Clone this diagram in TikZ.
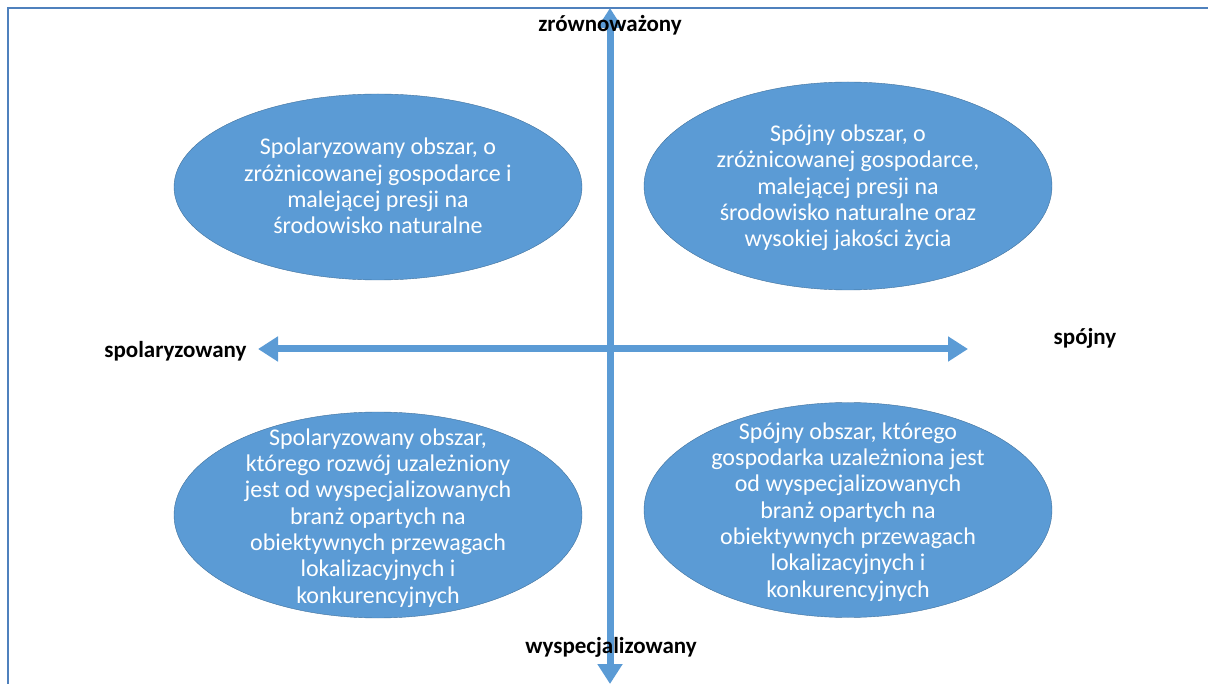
\documentclass[tikz,border=0pt]{standalone}
\usepackage{fontspec}
\setmainfont{Carlito}
\usetikzlibrary{arrows.meta}
\usetikzlibrary{shapes.geometric}
\definecolor{blob}{RGB}{91,155,213}
\definecolor{blobedge}{RGB}{65,113,156}
\definecolor{frame}{RGB}{79,129,189}

\begin{document}
\begin{tikzpicture}[x=1pt, y=-1pt,
		q/.style={ellipse, draw=blobedge, fill=blob, thin, inner sep=0pt},
		qt/.style={text=white, align=center, font=\fontsize{24}{26.3}\selectfont},
		ax/.style={{Triangle[width=24pt,length=20pt]}-{Triangle[width=24pt,length=20pt]}, line width=7pt, draw=blob, fill=blob},
		lbl/.style={font=\fontsize{23}{26}\selectfont\bfseries},
		]
		
		\useasboundingbox (0,0) rectangle (1208,684);
		\draw[frame, line width=2pt]	(8,700)	|-	(1220,8);
		
		\node[q, minimum width=408, minimum height=186]	(tl)	at	(378,187)	{};
		\node[q, minimum width=408, minimum height=208]	(tr)	at	(848,186)	{};
		\node[q, minimum width=408, minimum height=206]	(bl)	at	(378,515)	{};
		\node[q, minimum width=408, minimum height=215]	(br)	at	(848,510)	{};
		
		\node[qt]	(tltxt)	at	(378,186)	{Spolaryzowany obszar, o\\zróżnicowanej gospodarce i\\malejącej presji na\\środowisko naturalne};
		\node[qt]	(trtxt)	at	(848,188)	{Spójny obszar, o\\zróżnicowanej gospodarce,\\malejącej presji na\\środowisko naturalne oraz\\wysokiej jakości życia};
		\node[qt]	(bltxt)	at	(378,518)	{Spolaryzowany obszar,\\którego rozwój uzależniony\\jest od wyspecjalizowanych\\branż opartych na\\obiektywnych przewagach\\lokalizacyjnych i\\konkurencyjnych};
		\node[qt]	(brtxt)	at	(848,512)	{Spójny obszar, którego\\gospodarka uzależniona jest\\od wyspecjalizowanych\\branż opartych na\\obiektywnych przewagach\\lokalizacyjnych i\\konkurencyjnych};
		
		\coordinate	(n)	at	(610,8);
		\coordinate	(s)	at	(610,684);
		\coordinate	(w)	at	(258,349);
		\coordinate	(e)	at	(968,349);
		
		\draw[ax]	(w)	--	(e);
		\draw[ax]	(n)	--	(s);
		
		\node[lbl]	(up)	at	(610,25)	{zrównoważony};
		\node[lbl]	(down)	at	(611,647)	{wyspecjalizowany};
		\node[lbl, anchor=east]	(left)	at	(250,351)	{spolaryzowany};
		\node[lbl]	(right)	at	(1085,338)	{spójny};
	\end{tikzpicture}
\end{document}
